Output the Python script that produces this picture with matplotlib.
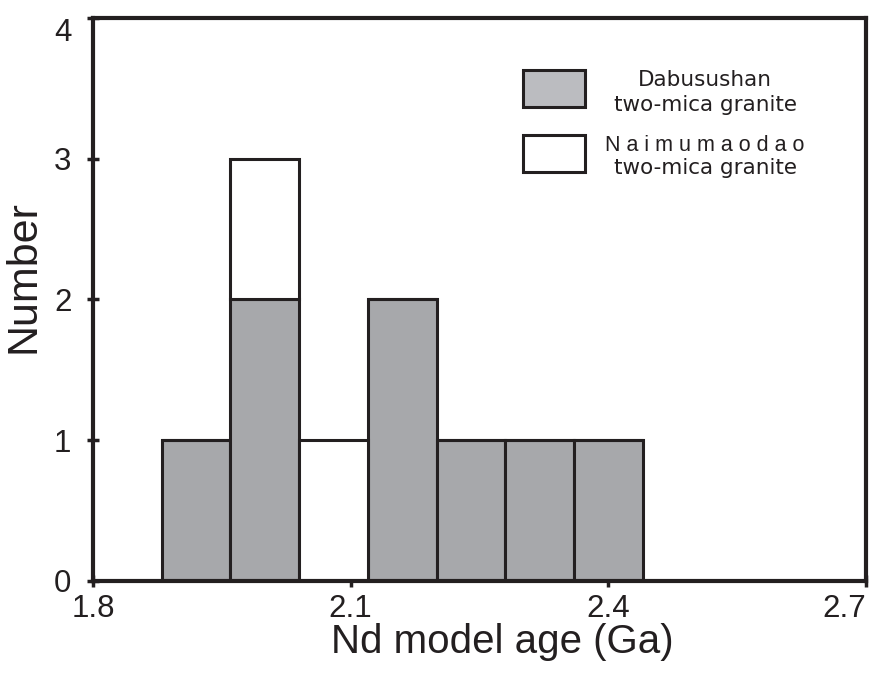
import matplotlib
matplotlib.use("Agg")
import matplotlib.pyplot as plt
from matplotlib.patches import Rectangle

plt.rcParams['font.family'] = ['Liberation Sans', 'DejaVu Sans']

# Histogram bins (left edges, Ga) and counts per pluton
bin_left = [1.88, 1.96, 2.04, 2.12, 2.20, 2.28, 2.36]
bin_width = 0.08
dabusushan = [1, 2, 0, 2, 1, 1, 1]
naimumaodao = [0, 1, 1, 0, 0, 0, 0]

x_ticks = [1.8, 2.1, 2.4, 2.7]
y_ticks = [0, 1, 2, 3, 4]

gray = '#a7a8ab'
edge = '#231f20'

fig = plt.figure(figsize=(8.74, 6.75), dpi=100)
ax = fig.add_axes([0.1064, 0.1393, 0.8844, 0.834])

ax.bar(bin_left, dabusushan, width=bin_width, align='edge',
       color=gray, edgecolor=edge, linewidth=2.2, zorder=2)
ax.bar(bin_left, naimumaodao, width=bin_width, bottom=dabusushan, align='edge',
       color='white', edgecolor=edge, linewidth=2.2, zorder=2)

ax.set_xlim(1.8, 2.7)
ax.set_ylim(0, 4)
ax.set_xticks(x_ticks)
ax.set_xticklabels([f'{v:.1f}' for v in x_ticks])
ax.set_yticks(y_ticks)

for s in ax.spines.values():
    s.set_linewidth(3)
    s.set_color(edge)
    s.set_zorder(5)

ax.tick_params(axis='both', direction='inout', width=2.5, length=9,
               color=edge, labelsize=22.5, labelcolor=edge)
ax.tick_params(axis='x', pad=5)
ax.tick_params(axis='y', pad=11)

# keep end labels inside the frame
ax.get_xticklabels()[-1].set_horizontalalignment('right')
ax.get_yticklabels()[-1].set_verticalalignment('top')

ax.set_xlabel('Nd model age (Ga)', fontsize=29, color=edge)
ax.set_ylabel('Number', fontsize=31, color=edge)
ax.xaxis.set_label_coords(0.530, -0.075)
ax.yaxis.set_label_coords(-0.064, 0.54)

# Legend drawn as boxes with centred two-line labels
ax.add_patch(Rectangle((0.556, 0.842), 0.0805, 0.0656, transform=ax.transAxes,
                       facecolor='#bbbcc0', edgecolor=edge, linewidth=2.2, zorder=6))
ax.add_patch(Rectangle((0.556, 0.7265), 0.0805, 0.0656, transform=ax.transAxes,
                       facecolor='white', edgecolor=edge, linewidth=2.2, zorder=6))

legend_lines = [
    ('Dabusushan', 0.8792, 'DejaVu Sans', 15.5),
    ('two-mica granite', 0.8348, 'DejaVu Sans', 15.5),
    ('N a i m u m a o d a o', 0.7638, 'Liberation Sans', 15.5),
    ('two-mica granite', 0.7229, 'DejaVu Sans', 15.5),
]
for txt, ypos, fam, size in legend_lines:
    ax.text(0.792, ypos, txt, transform=ax.transAxes, ha='center',
            va='baseline', fontsize=size, color=edge, family=fam)

fig.savefig('out.png', dpi=100)
